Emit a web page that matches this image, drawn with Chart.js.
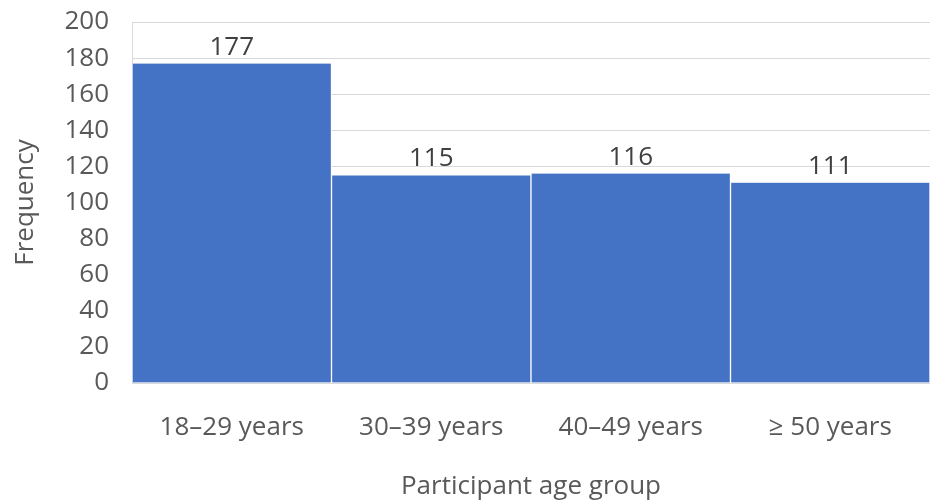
<!DOCTYPE html>
<html>
<head>
<meta charset="utf-8">
<script src="https://cdn.jsdelivr.net/npm/chart.js@4"></script>
<style>
  html, body { margin: 0; padding: 0; background: #fff; }
  #wrap { width: 931px; height: 502px; position: relative; }
</style>
</head>
<body>
<div id="wrap"><canvas id="myChart"></canvas></div>
<script>
// chart data
var ageGroups = ["18\u201329 years", "30\u201339 years", "40\u201349 years", "\u2265 50 years"];
var frequency = [177, 115, 116, 111];
var yMin = 0;
var yMax = 200;
var yStep = 20;

var fontFamily = "'Open Sans', sans-serif";
var fontSize = 26;

// draws the value above each bar
var barLabels = {
  id: "barLabels",
  afterDatasetsDraw: function (chart) {
    var ctx = chart.ctx;
    var meta = chart.getDatasetMeta(0);
    ctx.save();
    ctx.font = fontSize + "px " + fontFamily;
    ctx.fillStyle = "#404040";
    ctx.textAlign = "center";
    ctx.textBaseline = "alphabetic";
    meta.data.forEach(function (bar, i) {
      ctx.fillText(String(frequency[i]), bar.x, bar.y - 9);
    });
    ctx.restore();
  },
};

var ctx = document.getElementById("myChart").getContext("2d");
var myChart = new Chart(ctx, {
  type: "bar",
  data: {
    labels: ageGroups,
    datasets: [
      {
        label: "Frequency",
        data: frequency,
        backgroundColor: "#4472C4",
        borderColor: "#ffffff",
        borderWidth: { left: 1, right: 1, top: 0, bottom: 0 },
        categoryPercentage: 1,
        barPercentage: 1,
      },
    ],
  },
  options: {
    responsive: true,
    maintainAspectRatio: false,
    devicePixelRatio: 1,
    animation: false,
    layout: { padding: { top: 22, right: 1, left: 0, bottom: 0 } },
    plugins: {
      legend: { display: false },
      tooltip: { enabled: false },
    },
    scales: {
      x: {
        grid: { display: false, drawTicks: false },
        border: { display: false },
        ticks: {
          color: "#595959",
          font: { family: fontFamily, size: fontSize },
          padding: 29,
          maxRotation: 0,
        },
        title: {
          display: true,
          text: "Participant age group",
          color: "#595959",
          font: { family: fontFamily, size: fontSize },
          padding: { top: 0, bottom: 0 },
        },
        afterFit: function (scale) {
          scale.height = 119;
          scale.paddingLeft = 0;
          scale.paddingRight = 0;
        },
      },
      y: {
        min: yMin,
        max: yMax,
        grid: { color: "#d9d9d9", lineWidth: 1, drawTicks: false },
        border: { display: true, color: "#d9d9d9" },
        ticks: {
          stepSize: yStep,
          color: "#595959",
          font: { family: fontFamily, size: fontSize },
          padding: 23,
        },
        title: {
          display: true,
          text: "Frequency",
          color: "#595959",
          font: { family: fontFamily, size: fontSize },
          padding: { top: 10, bottom: 0 },
        },
        afterFit: function (scale) {
          scale.width = 132;
          scale.paddingTop = 0;
          scale.paddingBottom = 0;
        },
      },
    },
  },
  plugins: [barLabels],
});
</script>
</body>
</html>
